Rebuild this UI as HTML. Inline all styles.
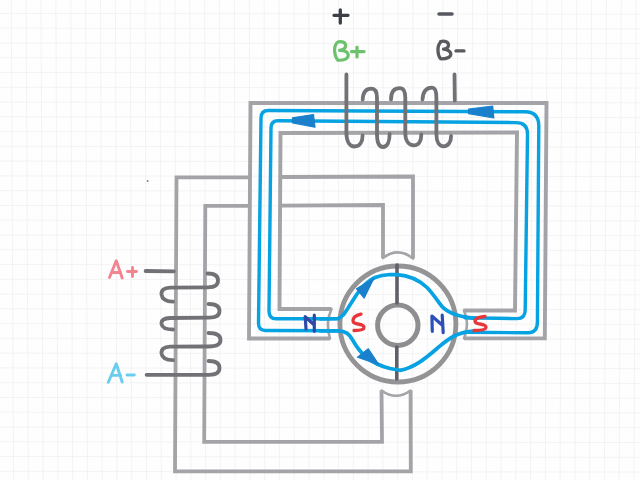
<!DOCTYPE html>
<html><head><meta charset="utf-8">
<style>
html,body{margin:0;padding:0;background:#fefefe;overflow:hidden;font-family:"Liberation Sans",sans-serif;}
svg{display:block;filter:blur(0.6px);}
</style></head>
<body><svg width="640" height="480" viewBox="0 0 640 480">
<rect width="640" height="480" fill="#fefefe"/>

<g stroke="#f0f0f1" stroke-width="0.8" fill="none">
<line x1="-3.63" y1="0" x2="-1.17" y2="480"/>
<line x1="11.25" y1="0" x2="13.60" y2="480"/>
<line x1="26.13" y1="0" x2="28.37" y2="480"/>
<line x1="41.01" y1="0" x2="43.14" y2="480"/>
<line x1="55.89" y1="0" x2="57.91" y2="480"/>
<line x1="70.77" y1="0" x2="72.68" y2="480"/>
<line x1="85.65" y1="0" x2="87.45" y2="480"/>
<line x1="100.53" y1="0" x2="102.22" y2="480"/>
<line x1="115.41" y1="0" x2="116.99" y2="480"/>
<line x1="130.29" y1="0" x2="131.76" y2="480"/>
<line x1="145.17" y1="0" x2="146.53" y2="480"/>
<line x1="160.05" y1="0" x2="161.30" y2="480"/>
<line x1="174.93" y1="0" x2="176.07" y2="480"/>
<line x1="189.81" y1="0" x2="190.84" y2="480"/>
<line x1="204.69" y1="0" x2="205.61" y2="480"/>
<line x1="219.57" y1="0" x2="220.38" y2="480"/>
<line x1="234.45" y1="0" x2="235.15" y2="480"/>
<line x1="249.33" y1="0" x2="249.92" y2="480"/>
<line x1="264.21" y1="0" x2="264.69" y2="480"/>
<line x1="279.09" y1="0" x2="279.46" y2="480"/>
<line x1="293.97" y1="0" x2="294.23" y2="480"/>
<line x1="308.85" y1="0" x2="309.00" y2="480"/>
<line x1="323.73" y1="0" x2="323.77" y2="480"/>
<line x1="338.61" y1="0" x2="338.54" y2="480"/>
<line x1="353.49" y1="0" x2="353.31" y2="480"/>
<line x1="368.37" y1="0" x2="368.08" y2="480"/>
<line x1="383.25" y1="0" x2="382.85" y2="480"/>
<line x1="398.13" y1="0" x2="397.62" y2="480"/>
<line x1="413.01" y1="0" x2="412.39" y2="480"/>
<line x1="427.89" y1="0" x2="427.16" y2="480"/>
<line x1="442.77" y1="0" x2="441.93" y2="480"/>
<line x1="457.65" y1="0" x2="456.70" y2="480"/>
<line x1="472.53" y1="0" x2="471.47" y2="480"/>
<line x1="487.41" y1="0" x2="486.24" y2="480"/>
<line x1="502.29" y1="0" x2="501.01" y2="480"/>
<line x1="517.17" y1="0" x2="515.78" y2="480"/>
<line x1="532.05" y1="0" x2="530.55" y2="480"/>
<line x1="546.93" y1="0" x2="545.32" y2="480"/>
<line x1="561.81" y1="0" x2="560.09" y2="480"/>
<line x1="576.69" y1="0" x2="574.86" y2="480"/>
<line x1="591.57" y1="0" x2="589.63" y2="480"/>
<line x1="606.45" y1="0" x2="604.40" y2="480"/>
<line x1="621.33" y1="0" x2="619.17" y2="480"/>
<line x1="636.21" y1="0" x2="633.94" y2="480"/>
<line x1="651.09" y1="0" x2="648.71" y2="480"/>
<line x1="665.97" y1="0" x2="663.48" y2="480"/>
<line x1="0" y1="-1.37" x2="640" y2="-0.57"/>
<line x1="0" y1="13.40" x2="640" y2="14.20"/>
<line x1="0" y1="28.17" x2="640" y2="28.97"/>
<line x1="0" y1="42.94" x2="640" y2="43.74"/>
<line x1="0" y1="57.71" x2="640" y2="58.51"/>
<line x1="0" y1="72.48" x2="640" y2="73.28"/>
<line x1="0" y1="87.25" x2="640" y2="88.05"/>
<line x1="0" y1="102.02" x2="640" y2="102.82"/>
<line x1="0" y1="116.79" x2="640" y2="117.59"/>
<line x1="0" y1="131.56" x2="640" y2="132.36"/>
<line x1="0" y1="146.33" x2="640" y2="147.13"/>
<line x1="0" y1="161.10" x2="640" y2="161.90"/>
<line x1="0" y1="175.87" x2="640" y2="176.67"/>
<line x1="0" y1="190.64" x2="640" y2="191.44"/>
<line x1="0" y1="205.41" x2="640" y2="206.21"/>
<line x1="0" y1="220.18" x2="640" y2="220.98"/>
<line x1="0" y1="234.95" x2="640" y2="235.75"/>
<line x1="0" y1="249.72" x2="640" y2="250.52"/>
<line x1="0" y1="264.49" x2="640" y2="265.29"/>
<line x1="0" y1="279.26" x2="640" y2="280.06"/>
<line x1="0" y1="294.03" x2="640" y2="294.83"/>
<line x1="0" y1="308.80" x2="640" y2="309.60"/>
<line x1="0" y1="323.57" x2="640" y2="324.37"/>
<line x1="0" y1="338.34" x2="640" y2="339.14"/>
<line x1="0" y1="353.11" x2="640" y2="353.91"/>
<line x1="0" y1="367.88" x2="640" y2="368.68"/>
<line x1="0" y1="382.65" x2="640" y2="383.45"/>
<line x1="0" y1="397.42" x2="640" y2="398.22"/>
<line x1="0" y1="412.19" x2="640" y2="412.99"/>
<line x1="0" y1="426.96" x2="640" y2="427.76"/>
<line x1="0" y1="441.73" x2="640" y2="442.53"/>
<line x1="0" y1="456.50" x2="640" y2="457.30"/>
<line x1="0" y1="471.27" x2="640" y2="472.07"/>
<line x1="0" y1="486.04" x2="640" y2="486.84"/>
<line x1="0" y1="500.81" x2="640" y2="501.61"/>
</g>

<!-- A frame -->
<g fill="none" stroke="#a4a4a8" stroke-width="3.8" stroke-linejoin="miter" stroke-linecap="butt">
  <path d="M250,177.3 L176.5,177.3 L175,471.4 L410.8,471.4 L410.6,390.5"/>
  <path d="M280,177 L413,176.5 L413,258.5"/>
  <path d="M250,205.8 L205.3,205.8 L204.2,441.8 L382,441.8 L381.5,390.5"/>
  <path d="M280,205.6 L383,205 L383,258"/>
</g>
<g fill="none" stroke="#a4a4a8" stroke-width="2.6" stroke-linecap="round">
  <path d="M383,258 Q398,246.5 413,258.5"/>
  <path d="M381.5,390.5 Q396,401 410.6,390.5"/>
</g>

<!-- B frame -->
<g fill="none" stroke="#a4a4a8" stroke-width="3.9" stroke-linejoin="miter">
  <path d="M330,338.5 L249,338.5 L250.5,103 L546.5,103 L544.8,338.4 L464,338.4"/>
  <path d="M331.5,309 L279.5,309 L280.5,133 L517,132.5 L515,310.5 L463.5,310.5"/>
</g>
<g fill="none" stroke="#a4a4a8" stroke-width="2.6" stroke-linecap="round">
  <path d="M331.5,309 Q325,323 330,338.5"/>
  <path d="M464,310.5 Q470,324 464,338.4"/>
</g>

<circle cx="147.6" cy="181.1" r="1" fill="#888"/>
<!-- rotor -->
<circle cx="397.9" cy="324" r="58" fill="none" stroke="#949496" stroke-width="4.8"/>
<circle cx="397.8" cy="325.2" r="20.2" fill="none" stroke="#8e8e91" stroke-width="5"/>
<g stroke="#5f6068" stroke-width="3.6" stroke-linecap="round">
  <line x1="397" y1="265" x2="397" y2="303"/>
  <line x1="396.8" y1="347" x2="396.8" y2="379"/>
</g>

<!-- blue flux -->
<g fill="none" stroke="#06a2e2" stroke-width="3.4" stroke-linecap="round" stroke-linejoin="round">
  <!-- outer loop -->
  <path d="M338,330.8 L265.5,330.5 Q258.5,330.5 258.5,323 L261,118 Q261,110.5 268.5,110.5 L525,111.8 Q538.8,112 538.8,126 L537.4,322 Q537.4,332.8 528,332.8 L465,332.2"/>
  <!-- inner loop -->
  <path d="M338,318.8 L276,318.8 Q269,318.8 269,311 L271,128 Q271,120.8 278,120.8 L516,122.6 Q527.5,122.6 527.5,134 L525.2,310 Q525.2,318.6 517,318.6 L465,317.8"/>
</g>
<g fill="none" stroke="#06a2e2" stroke-width="3.7" stroke-linecap="round" stroke-linejoin="round">
  <!-- rotor upper -->
  <path d="M320,318.8 L338,318.5 C343,316.5 345,313 348,308 L357,294 C362,287 367,281 375,277.5 C380,275.5 384,274.8 390,274.5 L397,274.6 C408,275.3 419,280 427,287.5 C433,293.5 437,300.5 442,306.5 C447,312 455,316.5 475,318.3"/>
  <!-- rotor lower -->
  <path d="M320,330.8 L338,330.8 C346,331 349,334 352,339 C356,346 360,352 366,357 C372,362 380,366 390,368.5 L400,370.3 C414,368 426,358 437,348.5 C446,341 455,332 475,330.8"/>
</g>
<!-- arrows -->
<g fill="#1a80cc" stroke="#1a80cc" stroke-width="1.2" stroke-linejoin="round">
  <path d="M292.5,117.8 L313.5,114.5 L315,127.2 L292.5,122.8 Z"/>
  <path d="M468.5,109.2 L492.7,106 L493.8,118 L468.5,113.6 Z"/>
  <path d="M373.8,278.5 L356.5,288.8 L364.2,298 Z"/>
  <path d="M379,364.8 L357.5,357.2 L368.3,348.75 Z"/>
</g>

<!-- B coil -->
<g fill="none" stroke="#717176" stroke-width="3.8" stroke-linecap="round" stroke-linejoin="round">
  <path d="M346.4,74.5 L346.4,133 C346.5,142 350,146.5 354.6,146.5 C359.5,146.5 362.6,142 362.6,135.5"/>
  <path d="M362.7,99.5 C363,91.5 367,88.6 371.5,88.6 C375.5,88.6 377,92 377,98 L377,134 C377,143 379.5,147 383,147 C387.5,147 389.6,141 389.6,134"/>
  <path d="M391,99.5 C391,91 395,88.2 400,88.2 C404,88.2 405.3,92 405.3,98 L405.3,133 C405.3,141 409,145.3 413.9,145.3 C418.5,145.3 421.3,141 421.3,134.4"/>
  <path d="M422.5,99.5 C423,90.5 427.5,87.7 432,87.7 C435.5,87.7 436.4,92 436.4,98 L436.4,134 C436.4,142 439.5,146.4 443.7,146.4 C448,146.4 451.1,142 451.1,136"/>
  <path d="M454.5,74.5 L454.8,100.5"/>
</g>

<!-- A coil -->
<g fill="none" stroke="#717176" stroke-width="3.8" stroke-linecap="round" stroke-linejoin="round">
  <path d="M145.6,271 L173.8,271.3"/>
  <path d="M207.5,273.5 Q218,273.5 218,280.5 Q218,287.3 208,287.3 L170,287.6 Q161,288 161.5,294.5 Q162.5,301.5 173,301.7"/>
  <path d="M208.5,304 Q219.5,304 219.5,311 Q219.5,317.6 209,317.6 L170,318 Q161,318.3 161.5,324 Q162.5,329.5 173,329.5"/>
  <path d="M208.5,333 Q220.5,333 220.5,340 Q220.5,346.5 209,346.5 L170,346.6 Q161,347 161.5,353.5 Q162.5,360 173,360.2"/>
  <path d="M208.5,361 Q219.5,361 219.5,368 Q219.5,374.8 209,374.8 L146.6,374.8"/>
</g>

<!-- labels -->
<g fill="none" stroke-linecap="round" stroke-linejoin="round">
  <path stroke="#3c3f48" stroke-width="3.3" d="M334,15.3 L348,15.3 M340.3,10 L340.3,23"/>
  <path stroke="#55585f" stroke-width="3.5" d="M439,13.9 L452,13.9"/>
  <path stroke="#6cc26c" stroke-width="3.2" d="M338,42 C335.2,44 334.4,47.5 334.6,51 C334.8,55 336,58 337.8,60 M337.8,42 C342.5,41 345.6,42.5 345.6,45.8 C345.6,48.8 343,50 339.5,50.3 C345,50.2 348.2,52 348.2,55.3 C348.2,58.5 344.5,60.5 337.8,60.2 M351.5,51.6 L364,51.6 M357,47 L357,57"/>
  <path stroke="#5a5a5f" stroke-width="3.3" d="M441,41.8 C438.5,44 437.8,48 438,51 C438.2,54.5 439,57 440.5,58.6 M440.5,41.6 C445,40.5 448.5,42 448.5,45 C448.5,48 446,49 443.5,49.2 C448,49.5 451,51.5 450.8,54.5 C450.5,57.5 447,58.8 441,58.8 M456,50.9 L464,50.9"/>
  <path stroke="#f3848f" stroke-width="2.9" d="M109.5,277.5 L116.25,260.8 L122.2,278 M112.8,272.5 L120.2,272.5 M127.5,271.5 L136.5,271.5 M132.5,267.5 L132.5,276.5"/>
  <path stroke="#68cdef" stroke-width="2.9" d="M108.3,382.3 L116.25,363.8 L122.2,382 M111.8,375.4 L120.6,375.4 M127,375 L134.3,375"/>
  <path stroke="#2b50b8" stroke-width="3.2" d="M432.3,331.3 L431.9,316 L441.8,324.7 M442.2,315.2 L443.2,332.7"/>
  <path stroke="#2d48a8" stroke-width="3.2" d="M306,329 L305.2,316.7 L314,324.7 M314.3,315.2 L314.3,331.3"/>
  <path stroke="#e8363a" stroke-width="3.3" d="M361,314.1 Q353,316 353,320.5 Q353,323.5 358,324 Q364,325 364,327.5 Q364,330.5 354,330.5"/>
  <path stroke="#e8363a" stroke-width="3.3" d="M485,316.5 Q475,317.5 475,321 Q475,323.5 480,324 Q486.5,325 486,327.5 Q485.5,330.5 474,330.5"/>
</g>

</svg></body></html>
